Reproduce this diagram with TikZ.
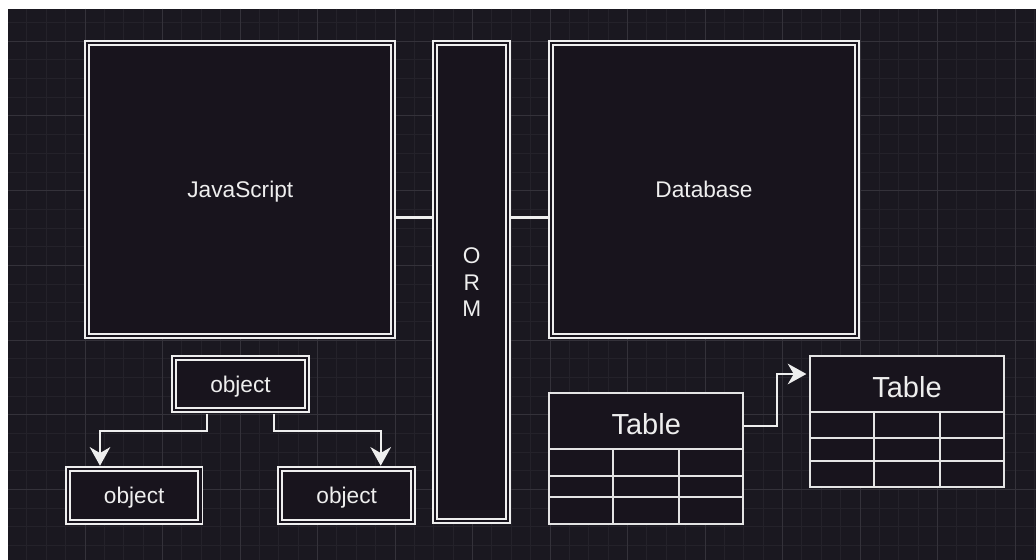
\documentclass[tikz,border=0pt]{standalone}
\usepackage{fontspec}
\setmainfont{Liberation Sans}
\usetikzlibrary{arrows.meta}
\definecolor{bgc}{HTML}{1A1820}
\definecolor{boxc}{HTML}{18141D}
\definecolor{minorc}{HTML}{24222A}
\definecolor{majorc}{HTML}{34323A}
\definecolor{fgc}{HTML}{EEEEEE}
\definecolor{linec}{HTML}{E4E4E4}
\pgfdeclarelayer{bglayer}
\pgfdeclarelayer{connlayer}
\pgfsetlayers{bglayer,connlayer,main}
\newcommand\pxu{0.75pt}
\begin{document}
\begin{tikzpicture}[x=0.75pt,y=-0.75pt,
  dbox/.style={draw=fgc, fill=boxc, line width=1.45pt, double=boxc, double distance=1.6pt,
    inner sep=0pt, text=fgc, font=\fontsize{17}{20}\selectfont, align=center},
  lowtext/.style={text depth=0pt},
  tbl/.style={draw=linec, fill=boxc, line width=1.4pt, inner sep=0pt, text=fgc,
    font=\fontsize{21.75}{26}\selectfont},
  tbltitle/.style={text height=19.8pt, text depth=0pt},
  cellline/.style={draw=linec, line width=1.4pt},
  conn/.style={draw=fgc, line width=2.6pt},
  arr/.style={draw=fgc, line width=1.35pt, shorten >=2pt, shorten <=2pt,
    -{Stealth[length=14pt, width=15.5pt, inset=4.5pt]}}
]
\useasboundingbox (0,0) rectangle (1036,560);
\begin{pgfonlayer}{bglayer}
  \fill[white] (0,0) rectangle (1036,560);
  \fill[bgc] (8,9) rectangle (1036,560);
  \begin{scope}
    \clip (8,9) rectangle (1036,560);
    \foreach \i in {-4,...,50}{
      \pgfmathsetmacro\xx{85+19.375*\i}
      \draw[minorc, line width=0.75pt] (\xx,9) -- (\xx,560);
    }
    \foreach \j in {-2,...,28}{
      \pgfmathsetmacro\yy{41.3+18.675*\j}
      \draw[minorc, line width=0.75pt] (8,\yy) -- (1036,\yy);
    }
    \foreach \i in {-1,...,12}{
      \pgfmathsetmacro\xx{85+77.5*\i}
      \draw[majorc, line width=0.75pt] (\xx,9) -- (\xx,560);
    }
    \foreach \j in {-1,...,7}{
      \pgfmathsetmacro\yy{41.3+74.7*\j}
      \draw[majorc, line width=0.75pt] (8,\yy) -- (1036,\yy);
    }
  \end{scope}
\end{pgfonlayer}

% main boxes
\node[dbox, lowtext, minimum width=306*\pxu, minimum height=292.4*\pxu] (js) at (240.3,189.5) {JavaScript};
\node[dbox, minimum width=73*\pxu, minimum height=478*\pxu] (orm) at (471.8,282.3) {O\\R\\M};
\node[dbox, lowtext, minimum width=305.3*\pxu, minimum height=292.4*\pxu] (db) at (704,189.5) {Database};

% objects
\node[dbox, lowtext, minimum width=133*\pxu, minimum height=52.3*\pxu] (o0) at (240.5,384.2) {object};
\node[dbox, lowtext, minimum width=132.5*\pxu, minimum height=52.7*\pxu] (o1) at (134.2,495.7) {object};
\node[dbox, lowtext, minimum width=132.7*\pxu, minimum height=52.7*\pxu] (o2) at (346.7,495.7) {object};

% tables
\node[tbl, tbltitle, minimum width=193.7*\pxu, minimum height=55.7*\pxu] (t1h) at (646.2,421.2) {Table};
\node[tbl, minimum width=193.7*\pxu, minimum height=74.7*\pxu] (t1b) at (646.2,486.4) {};
\draw[cellline] (t1b.west |- 0,475.7) -- (t1b.east |- 0,475.7);
\draw[cellline] (t1b.west |- 0,497.3) -- (t1b.east |- 0,497.3);
\draw[cellline] (t1b.north -| 613,0) -- (t1b.south -| 613,0);
\draw[cellline] (t1b.north -| 679,0) -- (t1b.south -| 679,0);

\node[tbl, tbltitle, minimum width=194*\pxu, minimum height=55.7*\pxu] (t2h) at (907,383.85) {Table};
\node[tbl, minimum width=194*\pxu, minimum height=75*\pxu] (t2b) at (907,449.2) {};
\draw[cellline] (t2b.west |- 0,438.3) -- (t2b.east |- 0,438.3);
\draw[cellline] (t2b.west |- 0,460.7) -- (t2b.east |- 0,460.7);
\draw[cellline] (t2b.north -| 873.7,0) -- (t2b.south -| 873.7,0);
\draw[cellline] (t2b.north -| 939.7,0) -- (t2b.south -| 939.7,0);

% connectors
\begin{pgfonlayer}{connlayer}
  \draw[conn] (js.east |- 0,217.3) -- (orm.west |- 0,217.3);
  \draw[conn] (orm.east |- 0,217.3) -- (db.west |- 0,217.3);
\end{pgfonlayer}

\draw[arr] (o0.south -| 206.7,0) -- (206.7,430.7) -- (100,430.7) -- (o1.north -| 100,0);
\draw[arr] (o0.south -| 274,0) -- (274,430.7) -- (380.7,430.7) -- (o2.north -| 380.7,0);
\draw[arr, shorten <=0pt] (t1h.east |- 0,426) -- (777.3,426) -- (777.3,374) -- (t2h.west |- 0,374);
\end{tikzpicture}
\end{document}
